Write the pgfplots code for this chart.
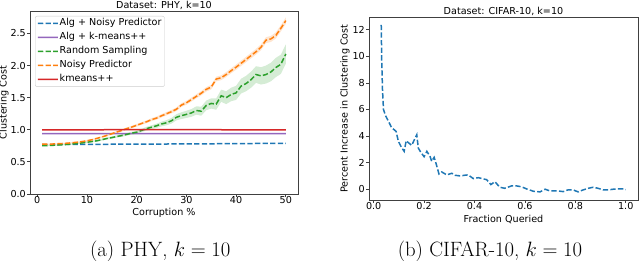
\documentclass[border=0pt]{standalone}
\usepackage{pgfplots}
\pgfplotsset{compat=1.18}
\usepackage{pgfplotstable}
\usepackage{fontspec}
\newfontfamily\dejavu{DejaVu Sans}
\definecolor{tabblue}{HTML}{1F77B4}
\definecolor{taborange}{HTML}{FF7F0E}
\definecolor{tabgreen}{HTML}{2CA02C}
\definecolor{tabred}{HTML}{D62728}
\definecolor{tabpurple}{HTML}{9467BD}

\pgfplotstableread{
x y
1 0.775
2 0.775
3 0.778
4 0.782
5 0.786
6 0.791
7 0.798
8 0.806
9 0.816
10 0.828
11 0.845
12 0.866
13 0.888
14 0.912
15 0.938
16 0.965
17 0.990
18 1.018
19 1.042
20 1.070
21 1.098
22 1.125
23 1.158
24 1.182
25 1.218
26 1.250
27 1.282
28 1.320
29 1.385
30 1.420
31 1.470
32 1.520
33 1.570
34 1.630
35 1.665
36 1.790
37 1.810
38 1.860
39 1.920
40 1.975
41 2.035
42 2.095
43 2.155
44 2.215
45 2.285
46 2.395
47 2.415
48 2.470
49 2.580
50 2.700
}\orangedata

% orange band: upper edge forward, lower edge backward
\pgfplotstableread{
x y
1 0.783
2 0.783
3 0.786
4 0.790
5 0.794
6 0.800
7 0.807
8 0.816
9 0.826
10 0.839
11 0.857
12 0.878
13 0.901
14 0.926
15 0.953
16 0.981
17 1.007
18 1.036
19 1.061
20 1.090
21 1.119
22 1.147
23 1.181
24 1.206
25 1.243
26 1.276
27 1.309
28 1.348
29 1.414
30 1.450
31 1.501
32 1.552
33 1.603
34 1.664
35 1.700
36 1.826
37 1.847
38 1.898
39 1.959
40 2.015
41 2.076
42 2.137
43 2.198
44 2.259
45 2.330
46 2.441
47 2.462
48 2.518
49 2.629
50 2.750
50 2.650
49 2.531
48 2.422
47 2.368
46 2.349
45 2.240
44 2.171
43 2.112
42 2.053
41 1.994
40 1.935
39 1.881
38 1.822
37 1.773
36 1.754
35 1.630
34 1.596
33 1.537
32 1.488
31 1.439
30 1.390
29 1.356
28 1.292
27 1.255
26 1.224
25 1.193
24 1.158
23 1.135
22 1.103
21 1.077
20 1.050
19 1.023
18 1.000
17 0.973
16 0.949
15 0.923
14 0.898
13 0.875
12 0.854
11 0.833
10 0.817
9 0.806
8 0.796
7 0.789
6 0.782
5 0.778
4 0.774
3 0.770
2 0.767
1 0.767
}\orangeband

\pgfplotstableread{
x y
1 0.752
2 0.755
3 0.758
4 0.762
5 0.767
6 0.772
7 0.778
8 0.786
9 0.796
10 0.806
11 0.817
12 0.829
13 0.846
14 0.864
15 0.878
16 0.896
17 0.910
18 0.928
19 0.947
20 0.962
21 0.990
22 1.018
23 1.040
24 1.062
25 1.090
26 1.110
27 1.140
28 1.195
29 1.220
30 1.240
31 1.262
32 1.300
33 1.290
34 1.380
35 1.410
36 1.400
37 1.530
38 1.500
39 1.550
40 1.575
41 1.680
42 1.720
43 1.780
44 1.860
45 1.840
46 1.860
47 1.900
48 1.970
49 2.020
50 2.180
}\greendata

% green band: upper edge forward, lower edge backward
\pgfplotstableread{
x y
1 0.758
2 0.761
3 0.765
4 0.769
5 0.775
6 0.780
7 0.787
8 0.796
9 0.807
10 0.818
11 0.830
12 0.843
13 0.861
14 0.880
15 0.895
16 0.914
17 0.929
18 0.948
19 0.969
20 0.986
21 1.016
22 1.046
23 1.070
24 1.095
25 1.126
26 1.150
27 1.184
28 1.243
29 1.272
30 1.296
31 1.322
32 1.365
33 1.360
34 1.455
35 1.490
36 1.488
37 1.625
38 1.600
39 1.655
40 1.685
41 1.795
42 1.840
43 1.905
44 1.990
45 1.975
46 2.000
47 2.045
48 2.120
49 2.170
50 2.330
50 2.030
49 1.870
48 1.820
47 1.755
46 1.720
45 1.705
44 1.730
43 1.655
42 1.600
41 1.565
40 1.465
39 1.445
38 1.400
37 1.435
36 1.312
35 1.330
34 1.305
33 1.220
32 1.235
31 1.202
30 1.184
29 1.168
28 1.147
27 1.096
26 1.070
25 1.054
24 1.029
23 1.010
22 0.990
21 0.964
20 0.938
19 0.925
18 0.908
17 0.891
16 0.878
15 0.861
14 0.848
13 0.831
12 0.815
11 0.804
10 0.794
9 0.785
8 0.776
7 0.769
6 0.764
5 0.759
4 0.755
3 0.751
2 0.749
1 0.746
}\greenband

\pgfplotstableread{
x y
1 0.768
3 0.770
5 0.771
7 0.772
9 0.773
11 0.772
13 0.774
15 0.775
17 0.775
19 0.776
21 0.777
23 0.777
25 0.778
27 0.779
29 0.779
31 0.780
33 0.781
35 0.782
37 0.783
39 0.784
41 0.785
43 0.786
45 0.787
47 0.788
49 0.789
50 0.790
}\bluedata

\pgfplotstableread{
x kmpp alg
1 1.000 0.940
25 1.001 0.941
50 1.000 0.940
}\flatdata

\pgfplotstableread{
x y
0.030 12.37
0.032 9.7
0.035 7.5
0.039 6.0
0.048 5.5
0.059 5.1
0.072 4.6
0.080 4.5
0.089 4.35
0.098 3.6
0.109 3.2
0.121 2.85
0.129 3.65
0.138 3.5
0.151 3.3
0.162 3.75
0.171 4.1
0.177 3.1
0.188 2.75
0.200 2.45
0.211 2.85
0.224 2.45
0.230 2.1
0.240 2.4
0.248 1.9
0.259 1.15
0.270 1.3
0.290 1.08
0.310 1.2
0.323 1.05
0.343 1.0
0.360 1.05
0.375 1.08
0.395 0.8
0.415 0.87
0.430 0.80
0.448 0.72
0.465 0.35
0.481 0.57
0.500 0.15
0.520 0.07
0.547 0.25
0.567 0.25
0.587 0.18
0.607 0.02
0.633 -0.15
0.660 -0.2
0.680 0.0
0.700 -0.13
0.732 -0.13
0.752 -0.18
0.771 -0.05
0.791 -0.05
0.811 -0.2
0.831 -0.05
0.851 0.07
0.871 0.15
0.890 0.07
0.910 -0.05
0.930 -0.05
0.950 0.0
0.970 0.02
0.990 0.02
1.000 -0.03
}\cifardata

\pgfplotsset{
  mplstyle/.style={
    scale only axis,
    anchor=south west,
    axis line style={black!75, line width=0.8pt},
    every tick/.style={black!75, line width=0.8pt},
    tick align=outside,
    major tick length=3pt,
    xtick pos=bottom, ytick pos=left,
    tick label style={font=\dejavu\fontsize{9.6}{11}\selectfont, inner sep=1pt},
    xticklabel style={yshift=1.5pt},
    /pgf/number format/assume math mode=true,
    label style={font=\dejavu\fontsize{9.6}{11}\selectfont},
    every axis title shift=0pt,
    title style={font=\dejavu\fontsize{9.6}{11}\selectfont, at={(axis description cs:0.5,1)}, anchor=base, yshift=2.5pt, inner sep=0pt},
  },
  mpldash/.style={line width=1.5pt, dash pattern=on 5.3pt off 2.3pt},
  mplsolid/.style={line width=1.5pt, solid},
}

\begin{document}
\begin{tikzpicture}

\begin{axis}[mplstyle,
  at={(30pt,67pt)}, width=268pt, height=183pt,
  xmin=-1.45, xmax=52.45, ymin=0, ymax=2.85,
  xtick={0,10,20,30,40,50},
  ytick={0,0.5,1,1.5,2,2.5},
  yticklabel style={/pgf/number format/fixed, /pgf/number format/fixed zerofill, /pgf/number format/precision=1},
  title={Dataset: PHY, k=10},
  xlabel={Corruption \%},
  ylabel={Clustering Cost},
  xlabel style={at={(axis description cs:0.5,-0.104)}, anchor=center},
  ylabel style={at={(axis description cs:-0.097,0.5)}, anchor=center},
  legend style={at={(axis description cs:0,1)}, anchor=north west, xshift=5pt, yshift=-5pt,
    draw=black!20, rounded corners=2pt, fill=white, fill opacity=0.8, text opacity=1,
    font=\dejavu\fontsize{9.6}{11}\selectfont, inner xsep=2pt, inner ysep=1.5pt,
    nodes={inner sep=1pt, text height=7pt, text depth=2.5pt, font=\dejavu\fontsize{9.6}{11}\selectfont}, row sep=2.5pt},
  legend cell align=left,
  legend image code/.code={\draw[#1] (0pt,0pt) -- (10pt,0.05pt) -- (20pt,0pt);},
]
\addplot[fill=taborange, fill opacity=0.2, draw=none, forget plot] table[x=x, y=y] {\orangeband};
\addplot[fill=tabgreen, fill opacity=0.2, draw=none, forget plot] table[x=x, y=y] {\greenband};

\addplot[tabblue, mpldash] table[x=x, y=y] {\bluedata};
\addlegendentry{Alg + Noisy Predictor}
\addplot[tabpurple, mplsolid] table[x=x, y=alg] {\flatdata};
\addlegendentry{Alg + k-means++}
\addplot[tabgreen, mpldash] table[x=x, y=y] {\greendata};
\addlegendentry{Random Sampling}
\addplot[taborange, mpldash] table[x=x, y=y] {\orangedata};
\addlegendentry{Noisy Predictor}
\addplot[tabred, mplsolid] table[x=x, y=kmpp] {\flatdata};
\addlegendentry{kmeans++}
\end{axis}

\begin{axis}[mplstyle,
  at={(369pt,61pt)}, width=269pt, height=183pt,
  xmin=-0.0185, xmax=1.0485, ymin=-0.81, ymax=12.96,
  xtick={0,0.2,0.4,0.6,0.8,1.0},
  ytick={0,2,4,6,8,10,12},
  xticklabel style={/pgf/number format/fixed, /pgf/number format/fixed zerofill, /pgf/number format/precision=1},
  title={Dataset: CIFAR-10, k=10},
  xlabel={Fraction Queried},
  ylabel={Percent Increase in Clustering Cost},
  xlabel style={at={(axis description cs:0.5,-0.105)}, anchor=center},
  ylabel style={at={(axis description cs:-0.089,0.5)}, anchor=center},
]
\addplot[tabblue, mpldash] table[x=x, y=y] {\cifardata};
\end{axis}

\node[anchor=base, font=\fontsize{20.74}{24}\selectfont] at (160.3pt,4.3pt) {(a) PHY, $k=10$};
\node[anchor=base, font=\fontsize{20.74}{24}\selectfont] at (490pt,4.3pt) {(b) CIFAR-10, $k=10$};
\pgfresetboundingbox
\path[use as bounding box] (0pt,0pt) rectangle (640pt,261pt);
\end{tikzpicture}
\end{document}
